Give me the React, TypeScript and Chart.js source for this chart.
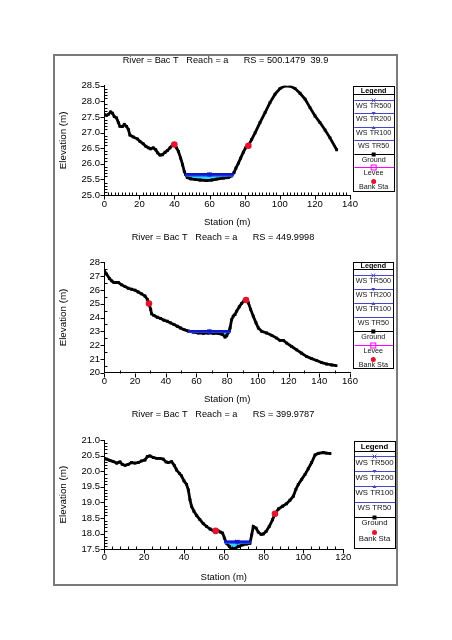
import React, { useEffect, useRef } from 'react';
import { Chart, registerables } from 'chart.js';
Chart.register(...registerables);

const FONT = '"Liberation Sans", Arial, Helvetica, sans-serif';
Chart.defaults.font.family = FONT;
Chart.defaults.color = '#000';

// ---------- Data: RS 500.1479 ----------
const title1 = 'River = Bac T   Reach = a      RS = 500.1479  39.9';
const g1Sta = [0,1.3,2.3,3.6,4.7,5.7,7,8,8.9,10.3,11.4,12.7,13.7,14.6,16.5,18.8,20.3,22.2,23.7,25.1,26.4,27.9,29.3,30.4,31.7,33.1,34.6,35.9,37.4,38.8,39.9,41.2,42.2,43.5,44.6,45.6,46.4,47.3,49.2,51.7,54.5,58.3,61.2,64,67.8,70.7,72.6,73.9,75,76.4,77.7,79.2,80.5,82.1,84,85.9,88.7,91.6,94.4,97.3,100.1,103,105.8,108.7,111.5,114.4,117.2,120.1,122.9,125.8,128.6,132.4];
const g1Elev = [27.58,27.55,27.58,27.66,27.62,27.51,27.47,27.32,27.2,27.19,27.26,27.2,27.1,26.92,26.86,26.8,26.72,26.64,26.56,26.51,26.48,26.51,26.45,26.35,26.28,26.29,26.37,26.42,26.51,26.6,26.62,26.51,26.4,26.18,25.97,25.75,25.65,25.56,25.52,25.5,25.48,25.46,25.48,25.51,25.54,25.56,25.61,25.72,25.86,26.02,26.18,26.37,26.51,26.58,26.78,26.99,27.32,27.64,27.96,28.23,28.41,28.5,28.49,28.41,28.26,28.07,27.8,27.53,27.32,27.08,26.83,26.45];
const ws1Elev = [25.67, 25.66, 25.64, 25.62];
const ws1Left = [46.2, 46.2, 46.3, 46.4];
const ws1Right = [73.7, 73.6, 73.6, 73.5];
const bank1Sta = [39.9, 82.1];
const bank1Elev = [26.62, 26.58];
const x1Range = [0, 140];
const y1Range = [25, 28.5];

// ---------- Data: RS 449.9998 ----------
const title2 = 'River = Bac T   Reach = a      RS = 449.9998';
const g2Sta = [0,1.5,3.3,4.8,6.3,9.1,11.3,13.5,15.6,17.8,20,22.1,24.3,26.5,28,28.9,30.2,30.8,32.3,34.5,36.7,38.9,41,43.2,45.4,47.5,49.7,51.9,54.7,58,61.2,64.5,67.7,71,74.3,77.1,78.6,79.7,80.8,81.9,82.9,84,85.1,86.2,87.9,89.4,91,92.3,93.8,95.3,97,98.8,100.3,102.5,105.7,109,112.2,114.4,116.6,118.8,122,125.3,128.5,131.8,135,138.3,141.6,144.8,148.1,150.9];
const g2Elev = [27.39,27.15,26.83,26.66,26.54,26.54,26.37,26.24,26.12,26.05,25.98,25.85,25.71,25.56,25.32,25.07,24.59,24.27,24.15,24.02,23.93,23.8,23.73,23.61,23.49,23.37,23.24,23.12,23.02,22.95,22.88,22.85,22.88,22.85,22.85,22.76,22.59,22.68,22.93,23.24,23.85,24.1,24.22,24.46,24.78,25.02,25.2,25.27,25.07,24.59,24.1,23.61,23.24,23.0,22.88,22.71,22.51,22.34,22.34,22.15,21.9,21.66,21.41,21.17,21.02,20.88,20.73,20.63,20.56,20.51];
const ws2Elev = [23.01, 23.0, 22.99, 22.96];
const ws2Left = [54.5, 54.6, 54.7, 54.9];
const ws2Right = [82.4, 82.3, 82.2, 82.0];
const bank2Sta = [29.1, 92.3];
const bank2Elev = [25.02, 25.27];
const x2Range = [0, 160];
const y2Range = [20, 28];

// ---------- Data: RS 399.9787 ----------
const title3 = 'River = Bac T   Reach = a      RS = 399.9787';
const g3Sta = [0,1.2,2.8,4.5,6.2,7.9,9,10.4,12,13.7,15.4,17.1,18.7,20.4,21.6,22.9,24.6,26.3,27.9,29.6,31,32.1,33.8,35.1,36.3,37.7,38.8,40,41.3,42.2,43,43.8,45,46.4,48,49.7,51.4,53.1,54.7,55.9,57.2,58.4,59.4,60.3,61.4,62.8,63.9,65.6,67.3,69.5,71.5,73.1,74,74.8,76.2,77.3,78.7,79.8,81.2,82.8,84.5,85.7,87.4,89.5,91.5,93.2,94.9,96.2,97.4,99.1,100.8,102.4,104.1,105.8,107.4,110,111.6,113.3];
const g3Elev = [20.41,20.39,20.35,20.31,20.26,20.3,20.22,20.19,20.22,20.28,20.26,20.28,20.33,20.36,20.47,20.49,20.44,20.41,20.41,20.39,20.3,20.28,20.31,20.19,20.04,19.93,19.85,19.69,19.58,19.4,19.09,18.88,18.72,18.58,18.45,18.32,18.23,18.15,18.1,18.09,18.09,18.05,18.02,17.86,17.69,17.59,17.5,17.53,17.59,17.64,17.67,17.69,17.96,18.23,18.18,18.05,17.98,17.99,18.07,18.23,18.45,18.64,18.79,18.88,18.96,19.07,19.2,19.42,19.58,19.74,19.9,20.08,20.28,20.52,20.57,20.6,20.58,20.57];
const ws3Elev = [17.75, 17.74, 17.72, 17.71];
const ws3Left = [60.2, 60.2, 60.3, 60.4];
const ws3Right = [73.4, 73.4, 73.3, 73.3];
const bank3Sta = [55.9, 85.7];
const bank3Elev = [18.09, 18.64];
const x3Range = [0, 120];
const y3Range = [17.5, 21];

const wsLabels = ['WS TR500', 'WS TR200', 'WS TR100', 'WS TR50'];
const wsColors = ['#1414c8', '#1430e6', '#1e50ff', '#1470ff'];
const waterColor = '#38d2ff';
const legendBlue = '#4646c8';

type LegendEntry = { label: string; color: string | null; marker: string | null };
const legendWithLevee: LegendEntry[] = [
  { label: 'WS TR500', color: legendBlue, marker: 'x' },
  { label: 'WS TR200', color: legendBlue, marker: 'triDown' },
  { label: 'WS TR100', color: legendBlue, marker: 'triUp' },
  { label: 'WS TR50', color: legendBlue, marker: null },
  { label: 'Ground', color: '#000', marker: 'square' },
  { label: 'Levee', color: '#ff00ff', marker: 'openSquare' },
  { label: 'Bank Sta', color: null, marker: 'dot' },
];
const legendNoLevee = legendWithLevee.filter((e) => e.label !== 'Levee');

type Cfg = {
  title: string; sta: number[]; elev: number[];
  wsElev: number[]; wsLeft: number[]; wsRight: number[];
  bankSta: number[]; bankElev: number[];
  xr: number[]; yr: number[]; xStep: number; yStep: number; xMinor: number; yMinor: number; yDec: number;
  left: number; top: number; w: number; h: number;
  yW: number; yTitlePad: number; rightW: number; titleTop: number; titleBottom: number;
  xH: number; xTitlePad: number; xTickPad: number;
  legend: { x: number; y: number; w: number; h: number; headerSep: number; firstLine: number; spacing: number; textGap: number; font: number; entries: LegendEntry[] };
};

const configs: Cfg[] = [
  {
    title: title1, sta: g1Sta, elev: g1Elev, wsElev: ws1Elev, wsLeft: ws1Left, wsRight: ws1Right,
    bankSta: bank1Sta, bankElev: bank1Elev, xr: x1Range, yr: y1Range, xStep: 20, yStep: 0.5, xMinor: 2, yMinor: 0.1, yDec: 1,
    left: 55, top: 50, w: 341, h: 180, yW: 49.3, yTitlePad: 2.3, rightW: 46, titleTop: 5, titleBottom: 19.7,
    xH: 35, xTitlePad: 2, xTickPad: 4,
    legend: { x: 298.3, y: 36, w: 40.7, h: 105, headerSep: 7.5, firstLine: 13.5, spacing: 13.5, textGap: 5.8, font: 7.2, entries: legendWithLevee },
  },
  {
    title: title2, sta: g2Sta, elev: g2Elev, wsElev: ws2Elev, wsLeft: ws2Left, wsRight: ws2Right,
    bankSta: bank2Sta, bankElev: bank2Elev, xr: x2Range, yr: y2Range, xStep: 20, yStep: 1, xMinor: 10, yMinor: 0.5, yDec: 0,
    left: 50, top: 230, w: 346, h: 180, yW: 54.3, yTitlePad: 7.3, rightW: 46, titleTop: 2, titleBottom: 19.3,
    xH: 37.3, xTitlePad: 5, xTickPad: 3,
    legend: { x: 303.3, y: 32, w: 40, h: 106, headerSep: 7, firstLine: 13, spacing: 14, textGap: 5.3, font: 7.2, entries: legendWithLevee },
  },
  {
    title: title3, sta: g3Sta, elev: g3Elev, wsElev: ws3Elev, wsLeft: ws3Left, wsRight: ws3Right,
    bankSta: bank3Sta, bankElev: bank3Elev, xr: x3Range, yr: y3Range, xStep: 20, yStep: 0.5, xMinor: 4, yMinor: 0.1, yDec: 1,
    left: 50, top: 405, w: 346, h: 180, yW: 54.3, yTitlePad: 7.3, rightW: 52.7, titleTop: 4, titleBottom: 20,
    xH: 35.7, xTitlePad: 2, xTickPad: 2.7,
    legend: { x: 304, y: 36, w: 41, h: 107, headerSep: 10, firstLine: 15, spacing: 15.2, textGap: 6, font: 7.8, entries: legendNoLevee },
  },
];

function drawMarker(ctx: CanvasRenderingContext2D, kind: string, x: number, y: number, color: string) {
  ctx.save();
  ctx.strokeStyle = color;
  ctx.fillStyle = color;
  ctx.lineWidth = 1;
  if (kind === 'x') {
    ctx.beginPath();
    ctx.moveTo(x - 2, y - 2); ctx.lineTo(x + 2, y + 2);
    ctx.moveTo(x + 2, y - 2); ctx.lineTo(x - 2, y + 2);
    ctx.stroke();
  } else if (kind === 'triDown') {
    ctx.beginPath(); ctx.moveTo(x - 2, y - 1.5); ctx.lineTo(x + 2, y - 1.5); ctx.lineTo(x, y + 1.8); ctx.closePath(); ctx.fill();
  } else if (kind === 'triUp') {
    ctx.beginPath(); ctx.moveTo(x - 2, y + 1.5); ctx.lineTo(x + 2, y + 1.5); ctx.lineTo(x, y - 1.8); ctx.closePath(); ctx.fill();
  } else if (kind === 'square') {
    ctx.fillRect(x - 2, y - 2, 4, 4);
  } else if (kind === 'openSquare') {
    ctx.strokeRect(x - 2.5, y - 2.5, 5, 5);
  } else if (kind === 'dot') {
    ctx.fillStyle = '#e8102a';
    ctx.beginPath(); ctx.arc(x, y, 2.5, 0, Math.PI * 2); ctx.fill();
  }
  ctx.restore();
}

function makePlugins(cfg: Cfg) {
  const ticks = {
    id: 'hecTicks',
    afterDraw(chart: any) {
      const { ctx, chartArea: a } = chart;
      const xs = chart.scales.x;
      const ys = chart.scales.y;
      ctx.save();
      ctx.strokeStyle = '#000';
      ctx.lineWidth = 1;
      ctx.beginPath();
      const nx = Math.round((cfg.xr[1] - cfg.xr[0]) / cfg.xMinor);
      for (let i = 0; i <= nx; i++) {
        const v = cfg.xr[0] + i * cfg.xMinor;
        const px = Math.round(xs.getPixelForValue(v)) + 0.5;
        const q = (v - cfg.xr[0]) / cfg.xStep;
        const major = Math.abs(q - Math.round(q)) < 1e-6;
        const by = Math.round(a.bottom) + 0.5;
        if (major) { ctx.moveTo(px, by); ctx.lineTo(px, by + 4); }
        else { ctx.moveTo(px, by); ctx.lineTo(px, by - 3); }
      }
      const ny = Math.round((cfg.yr[1] - cfg.yr[0]) / cfg.yMinor);
      for (let i = 0; i <= ny; i++) {
        const v = cfg.yr[0] + i * cfg.yMinor;
        const py = Math.round(ys.getPixelForValue(v)) + 0.5;
        const q = (v - cfg.yr[0]) / cfg.yStep;
        const major = Math.abs(q - Math.round(q)) < 1e-6;
        const lx = Math.round(a.left) + 0.5;
        if (major) { ctx.moveTo(lx, py); ctx.lineTo(lx - 4, py); }
        else { ctx.moveTo(lx, py); ctx.lineTo(lx + 3, py); }
      }
      ctx.stroke();
      ctx.restore();
    },
  };
  const legend = {
    id: 'hecLegend',
    afterDraw(chart: any) {
      const ctx: CanvasRenderingContext2D = chart.ctx;
      const L = cfg.legend;
      ctx.save();
      ctx.fillStyle = '#fff';
      ctx.fillRect(L.x, L.y, L.w, L.h);
      ctx.strokeStyle = '#000';
      ctx.lineWidth = 1;
      ctx.strokeRect(Math.round(L.x) + 0.5, Math.round(L.y) + 0.5, Math.round(L.w), Math.round(L.h));
      ctx.fillStyle = '#000';
      ctx.textAlign = 'center';
      ctx.textBaseline = 'middle';
      ctx.font = `bold ${L.font}px ${FONT}`;
      const cx = L.x + L.w / 2;
      ctx.fillText('Legend', cx, L.y + L.headerSep / 2 + 0.8);
      ctx.beginPath();
      const sy = Math.round(L.y + L.headerSep) + 0.5;
      ctx.moveTo(L.x, sy); ctx.lineTo(L.x + L.w, sy); ctx.stroke();
      ctx.font = `${L.font}px ${FONT}`;
      L.entries.forEach((e, i) => {
        const ly = L.y + L.firstLine + i * L.spacing;
        if (e.color) {
          ctx.strokeStyle = e.color;
          ctx.beginPath();
          ctx.moveTo(L.x + 1, Math.round(ly) + 0.5);
          ctx.lineTo(L.x + L.w, Math.round(ly) + 0.5);
          ctx.stroke();
        }
        if (e.marker) drawMarker(ctx, e.marker, cx, Math.round(ly) + 0.5, e.color || '#e8102a');
        ctx.fillStyle = '#111';
        ctx.fillText(e.label, cx, ly + L.textGap + 0.5);
      });
      ctx.restore();
    },
  };
  return [ticks, legend];
}

function buildDatasets(cfg: Cfg) {
  const ground = cfg.sta.map((x, i) => ({ x, y: cfg.elev[i] }));
  const last = cfg.wsElev.length - 1;
  const lowWS = cfg.wsElev[last];
  const water = [
    { x: cfg.wsLeft[last], y: lowWS },
    ...ground.filter((p) => p.x > cfg.wsLeft[last] && p.x < cfg.wsRight[last]),
    { x: cfg.wsRight[last], y: lowWS },
  ];
  const markerStyles: any[] = ['crossRot', 'triangle', 'triangle', false];
  const markerRot = [0, 180, 0, 0];
  const ds: any[] = [];
  ds.push({
    label: 'Bank Sta', order: 0,
    data: cfg.bankSta.map((x, i) => ({ x, y: cfg.bankElev[i] })),
    showLine: false, pointStyle: 'circle', pointRadius: 3.3,
    pointBackgroundColor: '#e4142e', pointBorderColor: '#e4142e', pointBorderWidth: 0,
  });
  cfg.wsElev.forEach((y, k) => {
    const L = cfg.wsLeft[k];
    const R = cfg.wsRight[k];
    ds.push({
      label: wsLabels[k], order: 1 + k,
      data: [{ x: L, y }, { x: (L + R) / 2, y }, { x: R, y }],
      borderColor: wsColors[k], backgroundColor: wsColors[k], borderWidth: 2.2,
      pointStyle: markerStyles[k] || 'circle', pointRotation: markerRot[k],
      pointRadius: markerStyles[k] ? [0, 2.5, 0] : 0,
      pointBorderColor: wsColors[k], pointBackgroundColor: wsColors[k], pointBorderWidth: 1,
      fill: false,
    });
  });
  ds.push({
    label: 'Ground', order: 5, data: ground,
    borderColor: '#000', borderWidth: 2.8, pointStyle: 'rect', pointRadius: 2,
    pointBackgroundColor: '#000', pointBorderColor: '#000', pointBorderWidth: 0, fill: false,
  });
  ds.push({
    label: 'Water', order: 6, data: water,
    borderWidth: 0, borderColor: waterColor, backgroundColor: waterColor, pointRadius: 0,
    fill: { value: lowWS },
  });
  return ds;
}

function XSChart({ cfg }: { cfg: Cfg }) {
  const ref = useRef<HTMLCanvasElement>(null);
  useEffect(() => {
    if (!ref.current) return;
    const tickFont = { family: FONT, size: 9.5 };
    const chart = new Chart(ref.current, {
      type: 'line',
      data: { datasets: buildDatasets(cfg) },
      plugins: makePlugins(cfg) as any,
      options: {
        animation: false,
        responsive: false,
        devicePixelRatio: 1,
        layout: { padding: 0 },
        elements: { line: { tension: 0 } },
        plugins: {
          legend: { display: false },
          tooltip: { enabled: false },
          title: {
            display: true, text: cfg.title, color: '#000',
            font: { family: FONT, size: 9.2, weight: 'normal', lineHeight: 1.2 },
            padding: { top: cfg.titleTop, bottom: cfg.titleBottom },
          },
        },
        scales: {
          x: {
            type: 'linear', position: 'bottom', min: cfg.xr[0], max: cfg.xr[1],
            grid: { display: false, drawTicks: false },
            border: { display: true, color: '#000', width: 1 },
            ticks: { stepSize: cfg.xStep, padding: cfg.xTickPad, font: tickFont, color: '#000', maxRotation: 0, autoSkip: false },
            title: { display: true, text: 'Station (m)', color: '#000', font: { family: FONT, size: 9.5, lineHeight: 1.2 }, padding: { top: 0, bottom: cfg.xTitlePad } },
            afterFit: (s: any) => { s.height = cfg.xH; },
          },
          y: {
            type: 'linear', position: 'left', min: cfg.yr[0], max: cfg.yr[1],
            grid: { display: false, drawTicks: false },
            border: { display: true, color: '#000', width: 1 },
            ticks: { stepSize: cfg.yStep, padding: 4.3, font: tickFont, color: '#000', autoSkip: false,
              callback: (v: any) => Number(v).toFixed(cfg.yDec) },
            title: { display: true, text: 'Elevation (m)', color: '#000', font: { family: FONT, size: 9.8, lineHeight: 1.2 }, padding: { top: cfg.yTitlePad, bottom: 0 } },
            afterFit: (s: any) => { s.width = cfg.yW; },
          },
          yR: {
            type: 'linear', position: 'right', display: true,
            grid: { display: false, drawTicks: false },
            border: { display: false },
            ticks: { display: false },
            afterFit: (s: any) => { s.width = cfg.rightW; },
          },
        },
      } as any,
    });
    return () => chart.destroy();
  }, [cfg]);
  return (
    <canvas
      ref={ref}
      width={cfg.w}
      height={cfg.h}
      style={{ position: 'absolute', left: cfg.left, top: cfg.top, width: cfg.w, height: cfg.h }}
    />
  );
}

export default function App() {
  return (
    <div style={{ position: 'absolute', left: 0, top: 0, width: 452, height: 640, background: '#fff' }}>
      <div
        style={{
          position: 'absolute', left: 53, top: 54, width: 345, height: 532,
          border: '2px solid #7a7a7a', boxSizing: 'border-box', background: '#fff',
        }}
      />
      {configs.map((c, i) => (
        <XSChart key={i} cfg={c} />
      ))}
    </div>
  );
}
